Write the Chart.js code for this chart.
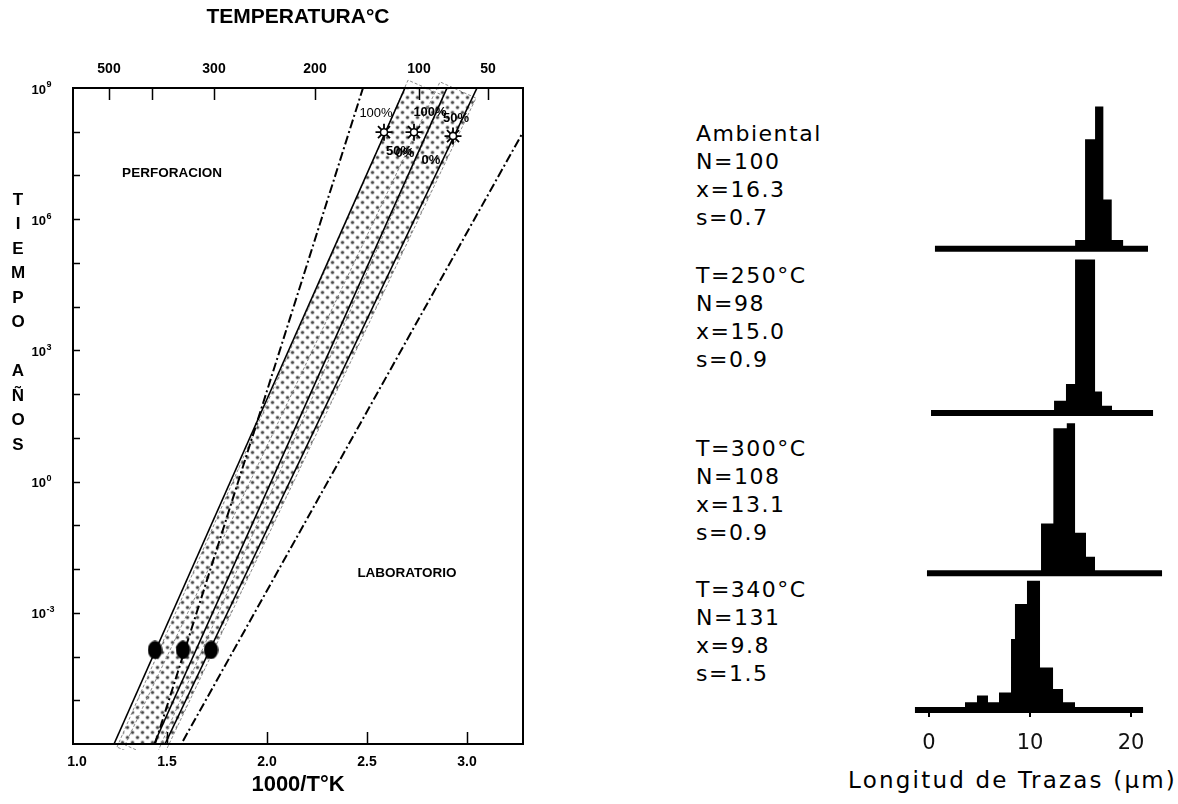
<!DOCTYPE html>
<html lang="es">
<head>
<meta charset="utf-8">
<title>Borrado de trazas: tiempo vs temperatura</title>
<script src="https://cdn.jsdelivr.net/npm/chart.js@4.4.1/dist/chart.umd.min.js"></script>
<style>
  html, body { margin: 0; padding: 0; background: #fff; }
  body { position: relative; width: 1178px; height: 804px; overflow: hidden; }
  canvas { position: absolute; }
  .stats {
    position: absolute; left: 696px; margin: 0;
    font: 22px "DejaVu Sans", sans-serif; letter-spacing: 1.5px;
    line-height: 28px; color: #000; white-space: pre;
  }
  #lenTitle {
    position: absolute; right: 1px; top: 766px;
    font: 23px "DejaVu Sans", sans-serif; letter-spacing: 2.2px;
    line-height: 28px; color: #000; white-space: pre;
  }
</style>
</head>
<body>
<canvas id="arrhenius" width="560" height="804" style="left:0;top:0"></canvas>
<div id="lenTitle">Longitud de Trazas (μm)</div>

<script>
// ============================================================
// Panel izquierdo: tiempo (log10 años) vs 1000/T (K)
// Panel derecho: histogramas de longitud de trazas
// ============================================================

// ----------------------------------------------------------
// Datos panel izquierdo (x = 1000/T, y = log10 años)
// ----------------------------------------------------------
const xTickVals     = [1.05, 1.5, 2.0, 2.5, 3.0];
const xTickLabels   = ['1.0', '1.5', '2.0', '2.5', '3.0'];
const tempTickVals  = [1.21, 1.425, 1.735, 2.24, 2.76, 3.105];
const tempTickLabels = ['500', '', '300', '200', '100', '50'];
const yLabelVals    = [9, 6, 3, 0, -3];

const bandX = [1.25, 2.705, 2.84, 2.865, 3.045, 1.47, 1.43];
const bandY = [-6.07, 9.18, 8.91, 9.14, 8.77, -6.39, -6.43];
const rect1X = [1.25, 2.705, 2.885, 1.43, 1.25];
const rect1Y = [-6.07, 9.18, 8.82, -6.43, -6.07];
const rect2X = [1.29, 2.865, 3.045, 1.47, 1.29];
const rect2Y = [-6.02, 9.14, 8.77, -6.39, -6.02];

const line1X = [1.235, 2.69];  const line1Y = [-6, 9];
const line2X = [1.435, 2.90];  const line2Y = [-6, 9];
const line3X = [1.49, 3.05];   const line3Y = [-6, 9];
const dash1X = [1.44, 2.48];   const dash1Y = [-6, 9];
const dash2X = [1.58, 3.28];   const dash2Y = [-5.93, 7.99];

const labX = [1.44, 1.58, 1.72];
const labY = [-3.85, -3.85, -3.85];
const starX = [2.585, 2.735, 2.93];
const starY = [7.99, 7.99, 7.90];

const pctText = ['100%', '100%', '50%', '50%', '0%', '0%'];
const pctX    = [2.545, 2.815, 2.945, 2.66, 2.69, 2.82];
const pctY    = [8.43, 8.45, 8.31, 7.54, 7.51, 7.35];

const zoneText = ['PERFORACION', 'LABORATORIO'];
const zoneX    = [1.525, 2.70];
const zoneY    = [7.06, -2.09];

// ----------------------------------------------------------
// Datos histogramas (bordes de clase en µm, frecuencias)
// ----------------------------------------------------------
const histNames = ['Ambiental', 'T=250°C', 'T=300°C', 'T=340°C'];
const histN     = [100, 98, 108, 131];
const histMean  = ['16.3', '15.0', '13.1', '9.8'];
const histSd    = ['0.7', '0.9', '0.9', '1.5'];

const ambEdges  = [14.46, 15.45, 16.44, 17.26, 18.09, 19.24];
const ambCounts = [2.7, 34.2, 44.4, 15.4, 2.7];
const t250Edges  = [12.38, 13.56, 14.46, 16.44, 17.13, 18.12];
const t250Counts = [3.8, 9.1, 48.0, 6.7, 2.3];
const t300Edges  = [11.09, 12.31, 13.64, 14.46, 15.54, 16.44];
const t300Counts = [15.6, 45.3, 46.9, 12.7, 5.2];
const t340Edges  = [3.56, 4.75, 5.84, 6.93, 8.12, 8.51, 9.70, 10.99, 12.28, 13.27, 14.46];
const t340Counts = [2.4, 4.5, 2.4, 5.5, 22.2, 33.1, 40.4, 13.3, 6.6, 2.4];

const baseFrom = [0.59, 0.2, -0.2, -1.39];
const baseTo   = [21.68, 22.18, 23.07, 21.19];
const lenTicks = [0, 10, 20];

(function () {
  'use strict';

  const SANS = '"Liberation Sans", Arial, Helvetica, sans-serif';
  const DEJA = '"DejaVu Sans", sans-serif';

  function pts(xs, ys) {
    return xs.map((x, i) => ({ x: x, y: ys[i] }));
  }

  // ----------------------------------------------------------
  // Trama de puntos de la banda
  // ----------------------------------------------------------
  function dotPattern(ctx) {
    const c = document.createElement('canvas');
    c.width = 10; c.height = 10;
    const g = c.getContext('2d');
    g.fillStyle = '#fff';
    g.fillRect(0, 0, 10, 10);
    [[2.5, 2.5], [7.5, 7.5]].forEach(([x, y]) => {
      g.fillStyle = '#c4c4c4';
      g.beginPath(); g.arc(x, y, 2.2, 0, Math.PI * 2); g.fill();
      g.fillStyle = '#474747';
      g.beginPath(); g.arc(x, y, 1.3, 0, Math.PI * 2); g.fill();
    });
    return ctx.createPattern(c, 'repeat');
  }

  function ellipseMark() {
    const c = document.createElement('canvas');
    c.width = 15; c.height = 19;
    const g = c.getContext('2d');
    g.fillStyle = '#000';
    g.beginPath(); g.ellipse(7.5, 9.5, 7.2, 9.2, 0, 0, Math.PI * 2); g.fill();
    return c;
  }

  // ----------------------------------------------------------
  // Marco, marcas internas, etiquetas y textos
  // ----------------------------------------------------------
  const framePlugin = {
    id: 'frame',
    afterDraw(chart) {
      const { ctx, chartArea: a, scales } = chart;
      const sx = scales.x, sy = scales.y;
      ctx.save();

      ctx.strokeStyle = '#000';
      ctx.lineWidth = 2;
      ctx.strokeRect(a.left, a.top, a.right - a.left, a.bottom - a.top);

      ctx.lineWidth = 1.5;
      ctx.beginPath();
      for (let v = -5; v <= 8; v++) {
        const py = Math.round(sy.getPixelForValue(v)) + 0.5;
        ctx.moveTo(a.left, py); ctx.lineTo(a.left + 7, py);
      }
      xTickVals.slice(1).forEach((v) => {
        const px = Math.round(sx.getPixelForValue(v)) + 0.5;
        ctx.moveTo(px, a.bottom); ctx.lineTo(px, a.bottom - 12);
      });
      tempTickVals.forEach((v) => {
        const px = Math.round(sx.getPixelForValue(v)) + 0.5;
        ctx.moveTo(px, a.top); ctx.lineTo(px, a.top + 12);
      });
      ctx.stroke();

      // 10^n
      ctx.fillStyle = '#000';
      ctx.textBaseline = 'middle';
      yLabelVals.forEach((v) => {
        const py = sy.getPixelForValue(v) + 2;
        ctx.font = 'bold 13px ' + SANS;
        ctx.textAlign = 'right';
        ctx.fillText('10', 46, py);
        ctx.font = 'bold 9px ' + SANS;
        ctx.textAlign = 'left';
        ctx.fillText(v < 0 ? '-' + (-v) : String(v), 46.5, py - 5);
      });

      // TIEMPO AÑOS en vertical
      const letters = ['T', 'I', 'E', 'M', 'P', 'O', '', 'A', 'Ñ', 'O', 'S'];
      ctx.font = 'bold 17px ' + SANS;
      ctx.textAlign = 'center';
      letters.forEach((l, i) => ctx.fillText(l, 18, 200 + i * 24.5));

      // zonas
      ctx.font = 'bold 13.5px ' + SANS;
      zoneText.forEach((t, i) => {
        ctx.fillText(t, sx.getPixelForValue(zoneX[i]), sy.getPixelForValue(zoneY[i]));
      });

      // porcentajes
      pctText.forEach((t, i) => {
        ctx.font = (i === 0 ? '' : 'bold ') + '13px ' + SANS;
        ctx.fillText(t, sx.getPixelForValue(pctX[i]), sy.getPixelForValue(pctY[i]));
      });

      ctx.restore();
    },
  };

  // ----------------------------------------------------------
  // Grafico izquierdo
  // ----------------------------------------------------------
  function drawArrhenius() {
    const canvas = document.getElementById('arrhenius');
    const ctx = canvas.getContext('2d');
    const lineStyle = { showLine: true, pointRadius: 0, fill: false, tension: 0, borderColor: '#000' };

    new Chart(canvas, {
      type: 'scatter',
      data: {
        datasets: [
          Object.assign({}, lineStyle, { data: pts(starX, starY), showLine: false, pointStyle: 'circle', pointRadius: 3.5, pointBackgroundColor: '#fff', pointBorderColor: '#000', pointBorderWidth: 1.5, order: 0 }),
          Object.assign({}, lineStyle, { data: pts(starX, starY), showLine: false, pointStyle: 'star', pointRadius: 8.5, pointBorderColor: '#000', pointBorderWidth: 1.8, order: 1 }),
          Object.assign({}, lineStyle, { data: pts(labX, labY), showLine: false, pointStyle: ellipseMark(), pointRadius: 8, order: 1 }),
          Object.assign({}, lineStyle, { data: pts(dash1X, dash1Y), borderWidth: 2, borderDash: [9, 3, 2, 3], order: 2 }),
          Object.assign({}, lineStyle, { data: pts(dash2X, dash2Y), borderWidth: 2, borderDash: [9, 3, 2, 3], order: 2 }),
          Object.assign({}, lineStyle, { data: pts(line1X, line1Y), borderWidth: 1.6, order: 3 }),
          Object.assign({}, lineStyle, { data: pts(line2X, line2Y), borderWidth: 1.6, order: 3 }),
          Object.assign({}, lineStyle, { data: pts(line3X, line3Y), borderWidth: 1.6, order: 3 }),
          Object.assign({}, lineStyle, { data: pts(rect1X, rect1Y), borderColor: '#8a8a8a', borderWidth: 1, borderDash: [3, 2], order: 4, clip: { left: 0, top: 10, right: 0, bottom: 6 } }),
          Object.assign({}, lineStyle, { data: pts(rect2X, rect2Y), borderColor: '#8a8a8a', borderWidth: 1, borderDash: [3, 2], order: 4, clip: { left: 0, top: 10, right: 0, bottom: 6 } }),
          Object.assign({}, lineStyle, { data: pts(bandX, bandY), borderWidth: 0, fill: 'shape', backgroundColor: dotPattern(ctx), order: 5 }),
        ],
      },
      options: {
        responsive: false,
        animation: false,
        events: [],
        layout: { padding: { left: 73, right: 37, top: 0, bottom: 0 } },
        plugins: { legend: { display: false }, tooltip: { enabled: false } },
        scales: {
          x: {
            type: 'linear', position: 'bottom', min: 1.03, max: 3.28,
            afterBuildTicks: (s) => { s.ticks = xTickVals.map((v) => ({ value: v })); },
            afterFit: (s) => { s.height = 60; },
            grid: { display: false, drawTicks: false },
            border: { display: false },
            ticks: {
              autoSkip: false, maxRotation: 0, padding: 10, color: '#000',
              font: { family: SANS, size: 14, weight: 'bold' },
              callback: (v, i) => xTickLabels[i],
            },
            title: {
              display: true, text: '1000/T°K', color: '#000',
              font: { family: SANS, size: 22, weight: 'bold' },
              padding: { top: 0, bottom: 6 },
            },
          },
          x2: {
            type: 'linear', position: 'top', min: 1.03, max: 3.28,
            afterBuildTicks: (s) => { s.ticks = tempTickVals.map((v) => ({ value: v })); },
            afterFit: (s) => { s.height = 88; },
            grid: { display: false, drawTicks: false },
            border: { display: false },
            ticks: {
              autoSkip: false, maxRotation: 0, padding: 10, color: '#000',
              font: { family: SANS, size: 14, weight: 'bold' },
              callback: (v, i) => tempTickLabels[i],
            },
            title: {
              display: true, text: 'TEMPERATURA°C', color: '#000',
              font: { family: SANS, size: 21, weight: 'bold' },
              padding: { top: 5, bottom: 0 },
            },
          },
          y: { type: 'linear', min: -6, max: 9, display: false },
        },
      },
      plugins: [framePlugin],
    });
  }

  // ----------------------------------------------------------
  // Histogramas
  // ----------------------------------------------------------
  const histEdges  = [ambEdges, t250Edges, t300Edges, t340Edges];
  const histCounts = [ambCounts, t250Counts, t300Counts, t340Counts];
  const histTop    = [95, 255, 415, 570];
  const histBase   = [248.7, 413, 573.3, 710];
  const textTop    = [133.5, 275.5, 449, 590];
  const PX_PER_COUNT = 3.2;

  function drawHistogram(k) {
    const last = k === 3;
    const area = histBase[k] - histTop[k];
    const canvas = document.createElement('canvas');
    canvas.width = 278;
    canvas.height = last ? 804 - histTop[k] : Math.round(area) + 4;
    canvas.style.left = '900px';
    canvas.style.top = histTop[k] + 'px';
    document.body.appendChild(canvas);

    const edges = histEdges[k];
    const counts = histCounts[k];
    const bars = edges.map((e, i) => ({ x: e, y: i < counts.length ? counts[i] : 0 }));
    const base = [{ x: baseFrom[k], y: 0 }, { x: baseTo[k], y: 0 }];

    const xScale = {
      type: 'linear', min: -2.87, max: 24.65, display: last,
      grid: { display: true, drawOnChartArea: false, drawTicks: true, tickLength: 7, color: '#000', lineWidth: 2 },
      border: { display: false },
      ticks: { autoSkip: false, maxRotation: 0, padding: 14, color: '#111', font: { family: DEJA, size: 21 } },
    };
    if (last) {
      xScale.afterBuildTicks = (s) => { s.ticks = lenTicks.map((v) => ({ value: v })); };
      xScale.afterFit = (s) => { s.height = 94; };
    }

    new Chart(canvas, {
      type: 'scatter',
      data: {
        datasets: [
          { data: base, showLine: true, borderColor: '#000', borderWidth: 6, pointRadius: 0, clip: false, borderCapStyle: 'butt' },
          { data: bars, showLine: true, stepped: 'before', fill: 'origin', backgroundColor: '#000', borderWidth: 0, pointRadius: 0 },
        ],
      },
      options: {
        responsive: false,
        animation: false,
        events: [],
        layout: { padding: { left: 0, right: 0, top: 0, bottom: last ? 0 : canvas.height - area } },
        plugins: { legend: { display: false }, tooltip: { enabled: false } },
        scales: {
          x: xScale,
          y: { type: 'linear', min: 0, max: area / PX_PER_COUNT, display: false },
        },
      },
    });

    const div = document.createElement('div');
    div.className = 'stats';
    div.style.top = (textTop[k] - 13.6) + 'px';
    div.textContent = [histNames[k], 'N=' + histN[k], 'x=' + histMean[k], 's=' + histSd[k]].join('\n');
    document.body.appendChild(div);
  }

  function init() {
    drawArrhenius();
    for (let k = 0; k < 4; k++) drawHistogram(k);
  }

  init();
})();
</script>
</body>
</html>
